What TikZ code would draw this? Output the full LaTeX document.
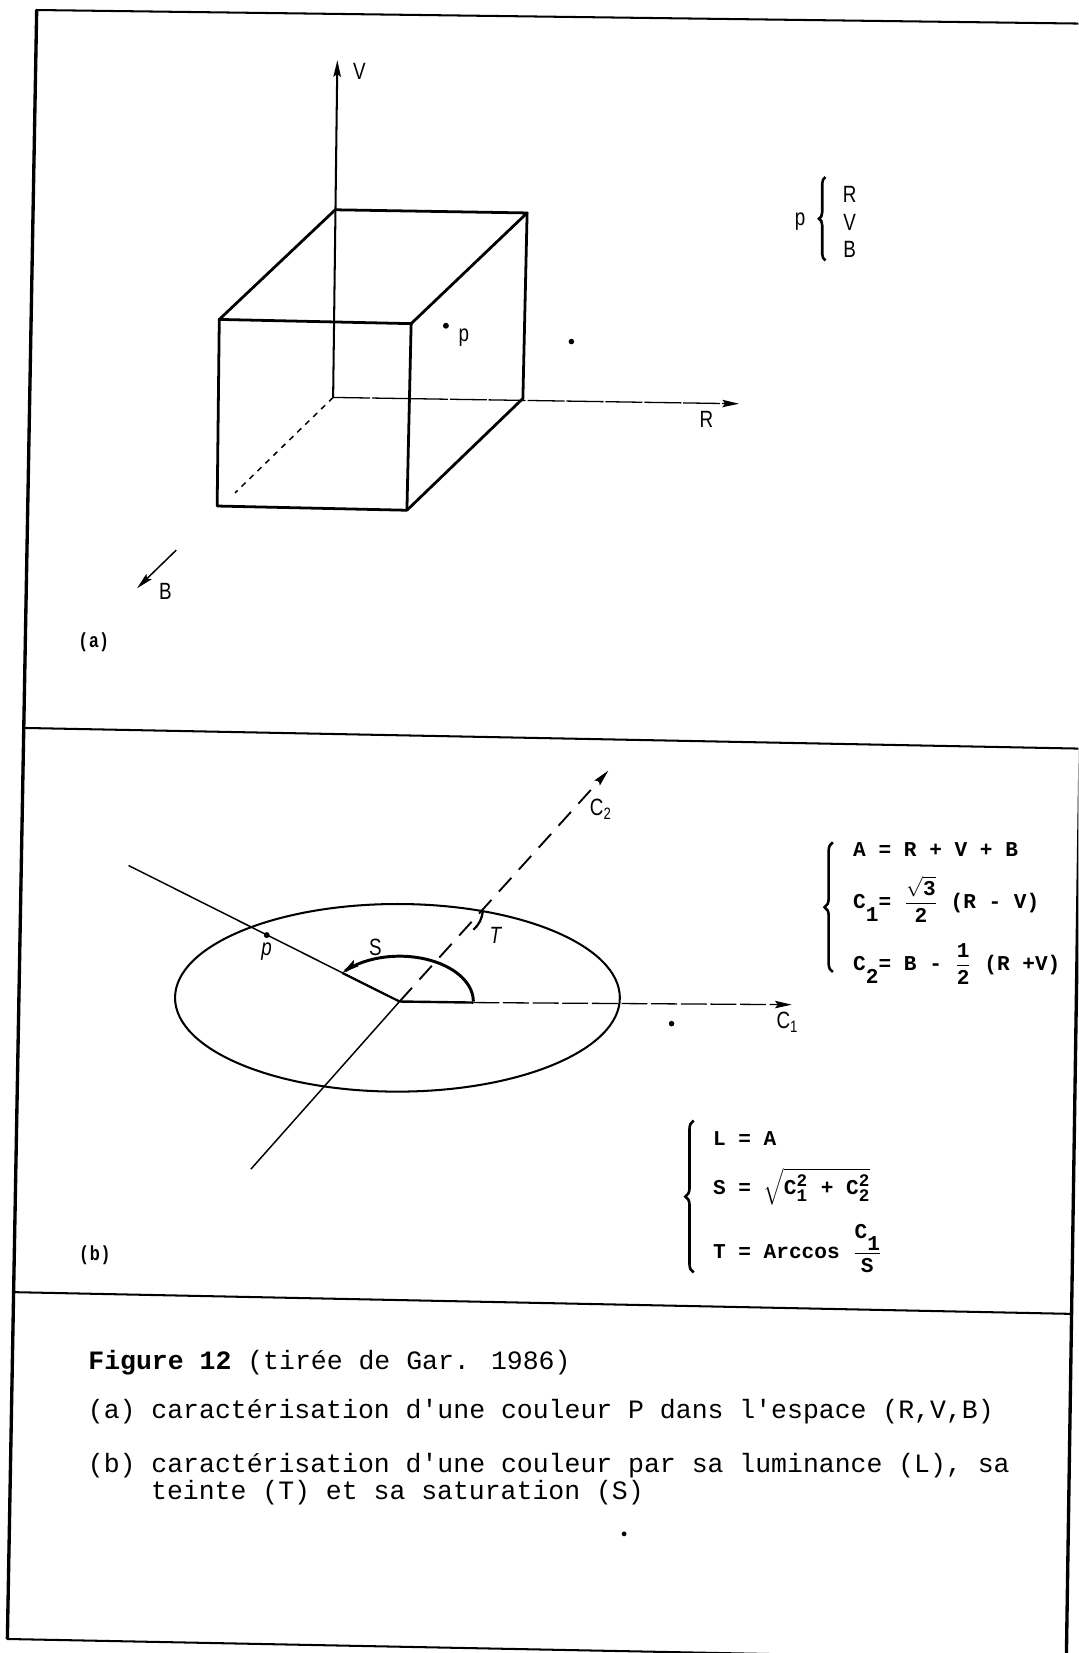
\documentclass[tikz,border=0pt]{standalone}
\usepackage{amsmath}
\usepackage{fontspec}
\usetikzlibrary{arrows.meta,calc,decorations.pathreplacing}
\newfontfamily\labfont{Liberation Sans}[FakeStretch=0.8]
\newfontfamily\typefont{Liberation Mono}
\newcommand\dn[1]{\raisebox{-0.6em}{#1}}
\newcommand\fr[2]{$\dfrac{\mbox{#1}}{\mbox{#2}}$}
\newcommand\sm[1]{{\fontsize{9.5}{10}\selectfont #1}}
\tikzset{
  rim/.style={line width=1.1pt, line cap=round},
  side/.style={line width=1.8pt},
  boxedge/.style={line width=1.5pt, line join=round, line cap=round},
  axisline/.style={line width=0.8pt},
  axtip/.style={-{Stealth[length=9pt,width=4pt,inset=1.5pt]}},
  lab/.style={font=\labfont\fontsize{12.7}{15}\selectfont, inner sep=0pt},
  sublab/.style={font=\labfont\bfseries\fontsize{11}{13}\selectfont, inner sep=0pt},
  eqn/.style={font=\typefont\bfseries\fontsize{11.4}{13}\selectfont, inner sep=0pt, anchor=base west},
  capt/.style={font=\typefont\fontsize{14.3}{17}\selectfont, inner sep=0pt, anchor=base west},
  curly/.style={decorate, decoration={brace, amplitude=#1}, line width=1.4pt},
  speck/.style={fill=black},
}
\begin{document}
\begin{tikzpicture}[x=0.02cm, y=-0.02cm]
  \useasboundingbox (0,0) rectangle (1023,1568);
  \fill[white] (0,0) rectangle (1023,1568);
  \clip (0,0) rectangle (1023,1568);
  % sheet frame, the scan is a bit skewed
  \coordinate (tl) at (34.8,9.5);
  \coordinate (tr) at (1035,22.5);
  \coordinate (br) at (1011.5,1574.5);
  \coordinate (bl) at (7,1554.7);
  \draw[rim] (bl) -- (tl) -- (tr);
  \draw[rim] (bl) -- (br);
  \draw[side] (tl) -- (bl);
  \draw[side] (tr) -- (br);
  \coordinate (d1l) at (22.5,690.5);
  \coordinate (d1r) at (1024,710.1);
  \coordinate (d2l) at (12.9,1225.7);
  \coordinate (d2r) at (1016.5,1246.3);
  \draw[rim] (d1l) -- (d1r);
  \draw[rim] (d2l) -- (d2r);

  % (a) the R,V,B cube
  \coordinate (o) at (316,377);
  \coordinate (vtip) at (320,57);
  \coordinate (rtip) at (701,383);
  \coordinate (btip) at (130,558);
  \coordinate (btl) at (318,199);
  \coordinate (btr) at (500,202);
  \coordinate (bbr) at (496,378);
  \coordinate (ftl) at (208,303);
  \coordinate (ftr) at (390,307);
  \coordinate (fbr) at (386,484);
  \coordinate (fbl) at (206,480);
  \draw[axisline, line width=1.1pt, axtip] (o) -- (vtip);
  \draw[axisline, line width=0.7pt, dash pattern=on 20pt off 1pt, axtip] (o) -- (rtip);
  \draw[axisline, dash pattern=on 3pt off 3pt] (o) -- ($(o)!0.5!(btip)$);
  \draw[axisline, axtip] ($(o)!0.8!(btip)$) -- (btip);
  \draw[boxedge] (ftl) -- (ftr) -- (fbr) -- (fbl) -- cycle;
  \draw[boxedge] (ftl) -- (btl) -- (btr) -- (ftr);
  \draw[boxedge] (btr) -- (bbr) -- (fbr);
  \node[lab] (vlab) at (341,68) {V};
  \node[lab] (rlab) at (670,398) {R};
  \node[lab] (blab) at (157,561) {B};
  \fill (423,309) circle (1.6pt);
  \node[lab] (plab) at (440,320) {p};
  \fill[speck] (542,324) circle (1.5pt);
  \node[lab] (pcol) at (759,210) {p};
  \draw[curly=3.5pt] (783,247) -- (783,168);
  \foreach \l/\y in {R/184, V/211, B/237} \node[lab] (p\l) at (806,\y) {\l};
  \node[sublab] (taga) at (89,609) {(\,a\,)};

  % (b) luminance, hue, saturation
  \coordinate (c) at (379,950);
  \coordinate (ctr) at (377,946.5);
  \coordinate (sbase) at (449,951);
  \coordinate (send) at (324.6,922.9);
  \coordinate (c1tip) at (751,953);
  \coordinate (c2tip) at (577,731);
  \coordinate (l1end) at (122,821);
  \coordinate (l2end) at (238,1109);
  \coordinate (ttop) at (458,864);
  \coordinate (tbot) at (449,882);
  \draw[line width=1.1pt] (ctr) ellipse [x radius=4.22cm, y radius=1.78cm];
  \draw[axisline] (l1end) -- (c) -- (l2end);
  \draw[line width=1.2pt] (c) -- (send);
  \draw[line width=1.3pt] (c) -- (sbase);
  \draw[axisline, line width=0.7pt, dash pattern=on 14pt off 2pt, axtip] (sbase) -- (c1tip);
  \draw[line width=1pt, dash pattern=on 10pt off 6pt, axtip] (c) -- (c2tip);
  \draw[line width=1.6pt, axtip] plot[domain=0:141, samples=40] ({379+70*cos(\x)}, {950-43*sin(\x)});
  \draw[line width=1.2pt] (ttop) to[bend left=20] (tbot);
  \fill (253,887) circle (1.6pt);
  \node[lab, font=\labfont\itshape\fontsize{12.7}{15}\selectfont] (pdot) at (253,903) {p};
  \node[lab] (slab) at (356,899) {S};
  \node[lab, font=\labfont\itshape\fontsize{12.7}{15}\selectfont] (tlab) at (470,887) {T};
  \node[lab] (c1lab) at (747,970) {C\textsubscript{1}};
  \node[lab] (c2lab) at (570,768) {C\textsubscript{2}};
  \fill[speck] (637,971) circle (1.5pt);
  \node[sublab] (tagb) at (90,1191) {(\,b\,)};

  % formulas
  \draw[curly=4.5pt] (790,922) -- (790,799);
  \node[eqn] (eqa) at (809,812) {A = R + V + B};
  \node[eqn] (eqc1) at (809,862) {C\dn{1}= \fr{$\sqrt{\mbox{3}}$}{2} (R - V)};
  \node[eqn] (eqc2) at (809,921) {C\dn{2}= B - \fr{1}{2} (R +V)};
  \draw[curly=4.5pt] (658,1207) -- (658,1063);
  \node[eqn] (eql) at (676,1087) {L = A};
  \node[eqn] (eqs) at (676,1133) {S = $\sqrt{\mbox{C}^{\mbox{\sm2}}_{\mbox{\sm1}}\mbox{ + C}^{\mbox{\sm2}}_{\mbox{\sm2}}}$};
  \node[eqn] (eqt) at (676,1194) {T = Arccos \fr{C\dn{1}}{S}};

  % caption
  \node[capt] (fig) at (83.5,1299) {\textbf{Figure 12} (tirée de Gar. 1986)};
  \node[capt] (capa) at (83,1346) {(a) caractérisation d'une couleur P dans l'espace (R,V,B)};
  \node[capt] (capb) at (83,1397) {(b) caractérisation d'une couleur par sa luminance (L), sa};
  \node[capt] (capc) at (143,1422) {teinte (T) et sa saturation (S)};
  \fill[speck] (592,1455) circle (1.3pt);
\end{tikzpicture}
\end{document}
